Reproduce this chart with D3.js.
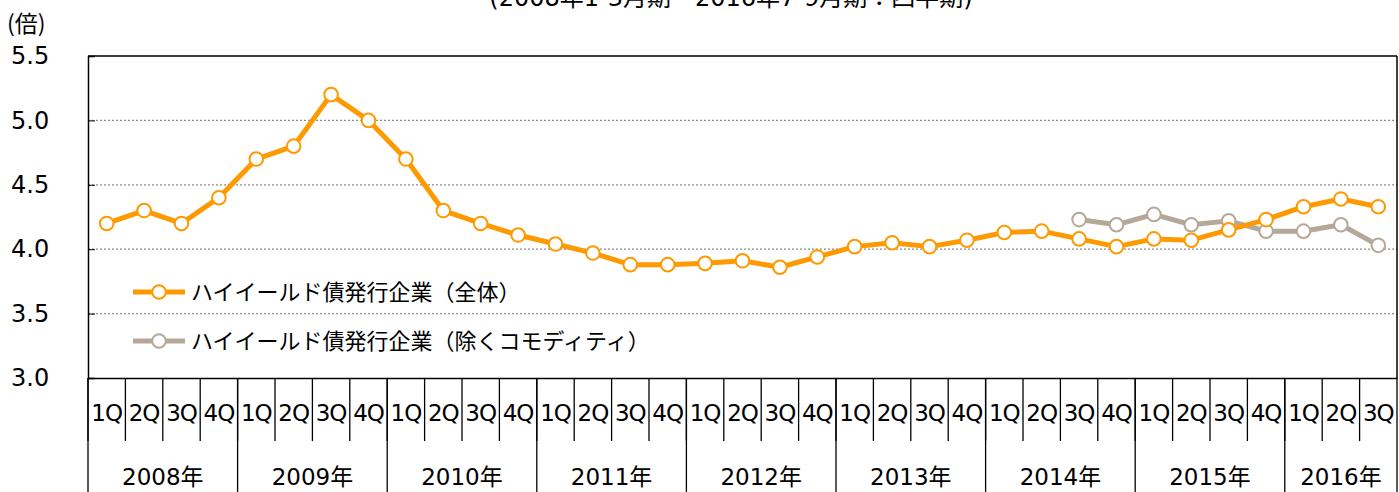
<!DOCTYPE html>
<html>
<head>
<meta charset="utf-8">
<script src="https://cdn.jsdelivr.net/npm/d3@7"></script>
<style>
  body { margin: 0; background: #fff; }
  svg { display: block; font-family: "DejaVu Sans", "Noto Sans CJK JP", sans-serif; }
</style>
</head>
<body>
<div id="chart"></div>
<script>
// data
const years = ["2008年", "2009年", "2010年", "2011年", "2012年", "2013年", "2014年", "2015年", "2016年"]
const quartersPerYear = [4, 4, 4, 4, 4, 4, 4, 4, 3]
const quarterNames = ["1Q", "2Q", "3Q", "4Q"]

const allFirms = [4.2, 4.3, 4.2, 4.4, 4.7, 4.8, 5.2, 5.0, 4.7, 4.3, 4.2, 4.11,
    4.04, 3.97, 3.88, 3.88, 3.89, 3.91, 3.86, 3.94, 4.02, 4.05, 4.02, 4.07,
    4.13, 4.14, 4.08, 4.02, 4.08, 4.07, 4.15, 4.23, 4.33, 4.39, 4.33]
// starts at 2014 3Q
const exCommodity = [null, null, null, null, null, null, null, null, null, null, null, null,
    null, null, null, null, null, null, null, null, null, null, null, null,
    null, null, 4.23, 4.19, 4.27, 4.19, 4.22, 4.14, 4.14, 4.19, 4.03]

const yTicks = [3.0, 3.5, 4.0, 4.5, 5.0, 5.5]
const seriesNames = ["ハイイールド債発行企業（全体）", "ハイイールド債発行企業（除くコモディティ）"]
const seriesColors = ["#ff9900", "#b5a898"]

document.addEventListener("DOMContentLoaded", drawChart)

function drawChart() {
    const width = 1399
    const height = 492
    const margin = {top: 56, right: 2, bottom: 114, left: 88}
    const innerW = width - margin.left - margin.right
    const innerH = height - margin.top - margin.bottom
    const jp = "'Noto Sans CJK JP', sans-serif"

    // one id per quarter
    const ids = []
    const qLabels = []
    years.forEach((yr, i) => {
        for (let q = 0; q < quartersPerYear[i]; q++) {
            ids.push(yr + quarterNames[q])
            qLabels.push(quarterNames[q])
        }
    })

    const svg = d3.select("#chart").append("svg")
        .attr("width", width)
        .attr("height", height)

    svg.append("text")
        .attr("x", 731)
        .attr("y", 6)
        .attr("text-anchor", "middle")
        .attr("font-size", 24)
        .text("(2008年1-3月期～2016年7-9月期：四半期)")

    svg.append("text")
        .attr("x", 7)
        .attr("y", 32)
        .attr("font-size", 23)
        .attr("font-family", jp)
        .text("(倍)")

    const g = svg.append("g")
        .attr("transform", "translate(" + margin.left + "," + margin.top + ")")

    const x = d3.scaleBand().domain(ids).range([0, innerW]).padding(0)
    const y = d3.scaleLinear().domain([3, 5.5]).range([innerH, 0])

    // gridlines
    g.selectAll(".grid")
        .data(yTicks.filter(t => t > 3 && t < 5.5))
        .enter()
        .append("line")
        .attr("class", "grid")
        .attr("x1", 0)
        .attr("x2", innerW)
        .attr("y1", d => y(d))
        .attr("y2", d => y(d))
        .attr("stroke", "#8c8c8c")
        .attr("stroke-width", 1.3)
        .attr("stroke-dasharray", "2,2")

    // frame top / right
    g.append("line").attr("x1", 0).attr("x2", innerW).attr("y1", 0).attr("y2", 0)
        .attr("stroke", "#000").attr("stroke-width", 1.5)
    g.append("line").attr("x1", innerW).attr("x2", innerW).attr("y1", 0).attr("y2", innerH)
        .attr("stroke", "#000").attr("stroke-width", 1.5)

    // y axis
    const yAxis = g.append("g")
        .call(d3.axisLeft(y).tickValues(yTicks).tickFormat(d3.format(".1f")).tickSize(-7))
    yAxis.select(".domain").attr("stroke-width", 1.5)
    yAxis.selectAll("text").attr("font-size", 24).attr("fill", "#000")
        .attr("font-family", "'DejaVu Sans', sans-serif").attr("text-anchor", "start")
        .attr("x", -77)

    // x axis: quarter labels
    const xAxis = g.append("g")
        .attr("transform", "translate(0," + innerH + ")")
        .call(d3.axisBottom(x).tickFormat((d, i) => qLabels[i]).tickSize(0).tickPadding(30))
    xAxis.select(".domain").attr("stroke-width", 1.5)
    xAxis.selectAll("text").attr("font-size", 23).attr("fill", "#000")
        .attr("font-family", "'DejaVu Sans', sans-serif")
        .attr("letter-spacing", "-1")
        .attr("dy", "0.55em")

    // quarter separators
    g.selectAll(".qsep")
        .data(ids)
        .enter()
        .append("line")
        .attr("class", "qsep")
        .attr("x1", d => x(d))
        .attr("x2", d => x(d))
        .attr("y1", innerH)
        .attr("y2", innerH + 63)
        .attr("stroke", "#000")
        .attr("stroke-width", 1.3)

    // year separators and labels
    let start = 0
    years.forEach((yr, i) => {
        const x0 = x(ids[start])
        const last = ids[start + quartersPerYear[i] - 1]
        const x1 = x(last) + x.bandwidth()
        g.append("line")
            .attr("x1", x0).attr("x2", x0)
            .attr("y1", innerH).attr("y2", height - margin.top)
            .attr("stroke", "#000").attr("stroke-width", 1.3)
        g.append("text")
            .attr("x", (x0 + x1) / 2)
            .attr("y", innerH + 107)
            .attr("text-anchor", "middle")
            .attr("font-size", 23)
            .text(yr)
        start += quartersPerYear[i]
    })
    g.append("line")
        .attr("x1", innerW).attr("x2", innerW)
        .attr("y1", innerH).attr("y2", height - margin.top)
        .attr("stroke", "#000").attr("stroke-width", 1.3)

    // lines
    const cx = (d, i) => x(ids[i]) + x.bandwidth() / 2
    const line = d3.line()
        .defined(d => d !== null)
        .x(cx)
        .y(d => y(d))

    const series = [allFirms, exCommodity]
    series.slice().reverse().forEach((vals, k) => {
        const s = series.length - 1 - k
        g.append("path")
            .datum(vals)
            .attr("fill", "none")
            .attr("stroke", seriesColors[s])
            .attr("stroke-width", 5)
            .attr("stroke-linejoin", "round")
            .attr("d", line)
        g.selectAll(".pt" + s)
            .data(vals.map((v, i) => ({v, i})).filter(p => p.v !== null))
            .enter()
            .append("circle")
            .attr("class", "pt" + s)
            .attr("cx", p => cx(p.v, p.i))
            .attr("cy", p => y(p.v))
            .attr("r", 6.8)
            .attr("fill", "#fff")
            .attr("stroke", seriesColors[s])
            .attr("stroke-width", 2)
    })

    // legend
    const legend = g.append("g").attr("transform", "translate(45,236)")
    seriesNames.forEach((name, i) => {
        const row = legend.append("g").attr("transform", "translate(0," + (i * 49) + ")")
        row.append("line").attr("x1", 0).attr("x2", 52).attr("y1", 0).attr("y2", 0)
            .attr("stroke", seriesColors[i]).attr("stroke-width", 5)
        row.append("circle").attr("cx", 26).attr("cy", 0).attr("r", 6.8)
            .attr("fill", "#fff").attr("stroke", seriesColors[i]).attr("stroke-width", 2)
        row.append("text").attr("x", 58).attr("y", 8)
            .attr("font-size", 22)
            .attr("font-family", jp)
            .text(name)
    })
}
</script>
</body>
</html>
